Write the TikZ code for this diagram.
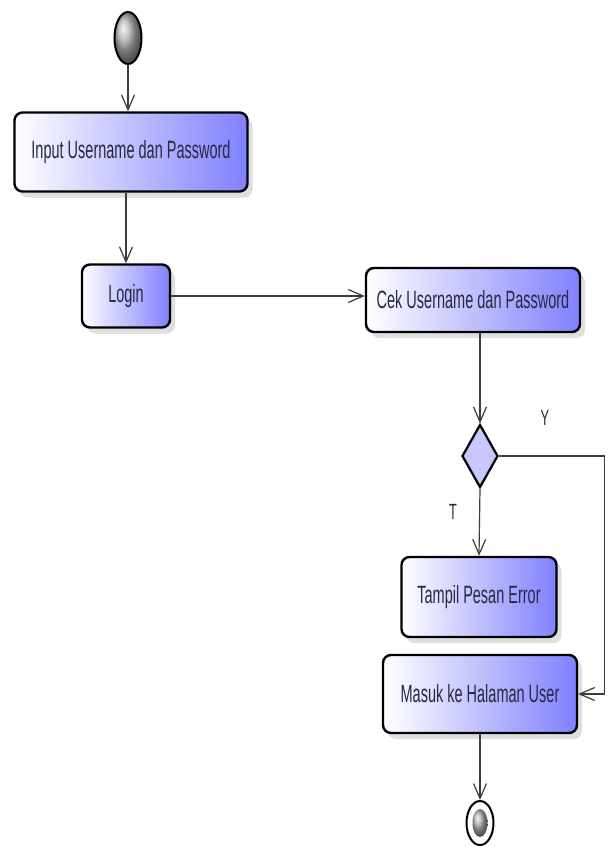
\documentclass[tikz,border=0pt]{standalone}
\usepackage{fontspec}
\usetikzlibrary{
    shapes.geometric,
    arrows.meta,
    positioning,
    calc,
    shadows
}
\newfontfamily\uifont[FakeStretch=0.58]{Liberation Sans}
\definecolor{actblue}{RGB}{128, 128, 255}
\definecolor{decblue}{RGB}{200, 200, 255}
\definecolor{inktext}{RGB}{40, 40, 65}
\definecolor{flowgray}{RGB}{60, 60, 60}

\begin{document}
\begin{tikzpicture}[
        x=1pt, y=-1pt,
        action/.style={draw=black, line width=2.4pt, rounded corners=8pt, left color=white, right color=actblue,
            inner sep=0pt, align=center, font=\uifont\fontsize{25}{27}\selectfont, text=inktext,
            drop shadow={shadow xshift=5pt, shadow yshift=-6pt, opacity=0.25, fill=gray}},
        decision/.style={diamond, draw=black, line width=2.2pt, fill=decblue, inner sep=0pt,
            minimum width=36pt, minimum height=63pt},
        flow/.style={draw=flowgray, line width=1.2pt, -{Straight Barb[length=15pt, width=13pt, line width=1.2pt]}},
        guard/.style={font=\uifont\fontsize{22}{24}\selectfont, text=inktext}
    ]
        \useasboundingbox (0,0) rectangle (610,868);

        % Start
        \node[ellipse, draw=black, line width=2pt, shading=ball, ball color=gray!60, inner sep=0pt,
            minimum width=27pt, minimum height=52pt] (start) at (128, 38) {};

        % Input Username dan Password
        \node[action, minimum width=233pt, minimum height=79pt] (input) at (131, 152) {Input Username dan Password};

        % Login
        \node[action, minimum width=88pt, minimum height=63pt] (login) at (126, 296) {Login};

        % Cek Username dan Password
        \node[action, minimum width=214pt, minimum height=64pt] (cek) at (473, 300) {Cek Username dan Password};

        % Decision
        \node[decision] (dec) at (480, 456) {};

        % Tampil Pesan Error
        \node[action, minimum width=155pt, minimum height=80pt] (error) at (479, 597) {Tampil Pesan Error};

        % Masuk ke Halaman User
        \node[action, minimum width=194pt, minimum height=78pt] (masuk) at (480, 694) {Masuk ke Halaman User};

        % Final
        \node[ellipse, draw=black, line width=2pt, fill=white, inner sep=0pt,
            minimum width=27pt, minimum height=44pt] (stop) at (480, 823) {};
        \node[ellipse, shading=ball, ball color=gray!60, inner sep=0pt,
            minimum width=15pt, minimum height=28pt] (stopdot) at (stop.center) {};

        % Arrows
        \draw[flow] (start) -- (start |- input.north);
        \draw[flow] (input.south -| login.north) -- (login.north);
        \draw[flow] (login.east) -- (login.east -| cek.west);
        \draw[flow] (cek.south -| dec.north) -- (dec.north);
        \draw[flow] (dec.south) -- (error.north);
        \draw[flow] (dec.east) -- ++(105, 0) |- (masuk.east);
        \draw[flow] (masuk.south) -- (stop.north);

        % Guards
        \node[guard] (yes) at (545, 418) {Y};
        \node[guard] (no) at (453, 512) {T};
    \end{tikzpicture}
\end{document}
